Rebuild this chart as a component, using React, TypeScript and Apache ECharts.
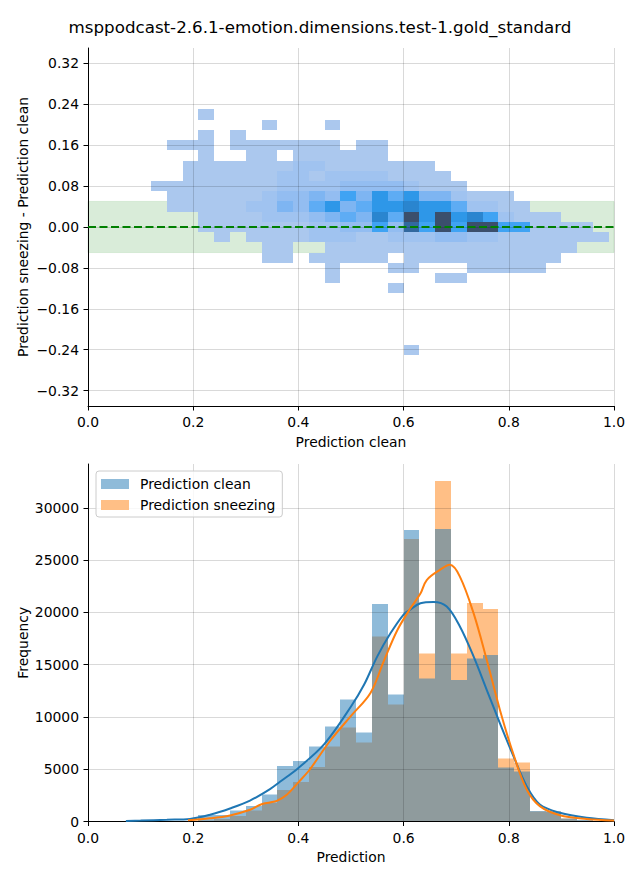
import React, { useEffect, useRef } from 'react';
import * as echarts from 'echarts';

const TITLE = 'msppodcast-2.6.1-emotion.dimensions.test-1.gold_standard';

// ---------- top panel: 2D histogram of (clean, sneezing - clean) ----------
const heatColX = [0.12, 0.15, 0.18, 0.21, 0.24, 0.27, 0.30, 0.33, 0.36, 0.39, 0.42, 0.45, 0.48, 0.51, 0.54, 0.57, 0.60, 0.63, 0.66, 0.69, 0.72, 0.75, 0.78, 0.81, 0.84, 0.87, 0.90, 0.93, 0.96];
const heatRowY = [0.22, 0.20, 0.18, 0.16, 0.14, 0.12, 0.10, 0.08, 0.06, 0.04, 0.02, 0.00, -0.02, -0.04, -0.06, -0.08, -0.10, -0.12, -0.24];
// relative count level per cell (0 = empty), one row per heatRowY, one column per heatColX
const heatCounts = [
  [0,0,0,1,0,0,0,0,0,0, 0,0,0,0,0,0,0,0,0,0, 0,0,0,0,0,0,0,0,0],
  [0,0,0,0,0,0,0,1,0,0, 0,1,0,0,0,0,0,0,0,0, 0,0,0,0,0,0,0,0,0],
  [0,0,0,1,0,1,0,0,0,0, 0,0,0,0,0,0,0,0,0,0, 0,0,0,0,0,0,0,0,0],
  [0,1,1,1,0,1,1,1,1,1, 1,1,0,1,1,0,0,0,0,0, 0,0,0,0,0,0,0,0,0],
  [0,0,0,1,0,0,1,1,0,1, 1,1,1,1,1,0,0,0,0,0, 0,0,0,0,0,0,0,0,0],
  [0,0,1,1,1,1,1,1,1,2, 2,1,1,1,1,1,1,1,0,0, 0,0,0,0,0,0,0,0,0],
  [0,0,1,1,1,1,1,1,2,2, 1,2,2,2,2,1,1,1,1,0, 0,0,0,0,0,0,0,0,0],
  [1,1,1,1,1,1,1,1,2,2, 2,2,3,3,3,3,2,1,1,1, 0,0,0,0,0,0,0,0,0],
  [0,1,1,1,1,1,1,2,3,3, 4,3,6,4,7,5,7,4,4,2, 1,1,1,0,0,0,0,0,0],
  [0,1,1,1,1,1,2,2,4,3, 5,7,4,5,7,7,8,7,7,5, 2,2,1,1,0,0,0,0,0],
  [0,0,0,1,1,1,1,2,2,2, 3,4,5,4,8,5,10,7,10,7, 8,6,2,1,1,1,0,0,0],
  [0,0,0,1,1,1,1,1,1,1, 2,2,3,3,6,3,9,6,10,6, 10,10,6,6,1,1,1,1,0],
  [0,0,0,0,1,0,1,1,1,1, 2,2,2,1,1,2,2,2,3,3, 2,2,1,1,1,1,1,1,1],
  [0,0,0,0,0,0,0,1,1,0, 0,1,1,1,1,1,1,1,1,1, 1,1,1,1,1,1,1,0,0],
  [0,0,0,0,0,0,0,1,1,0, 1,1,1,1,1,0,1,1,1,1, 1,1,1,1,1,1,0,0,0],
  [0,0,0,0,0,0,0,0,0,0, 0,1,0,0,0,1,1,0,0,0, 1,1,1,1,1,0,0,0,0],
  [0,0,0,0,0,0,0,0,0,0, 0,1,0,0,0,0,0,0,1,1, 0,0,0,0,0,0,0,0,0],
  [0,0,0,0,0,0,0,0,0,0, 0,0,0,0,0,1,0,0,0,0, 0,0,0,0,0,0,0,0,0],
  [0,0,0,0,0,0,0,0,0,0, 0,0,0,0,0,0,1,0,0,0, 0,0,0,0,0,0,0,0,0],
];
const bandLimits = [-0.05, 0.05];
const zeroLine = [[0, 0], [1, 0]];
const topYTicks = [-0.32, -0.24, -0.16, -0.08, 0.0, 0.08, 0.16, 0.24, 0.32];
const xTicks = [0, 0.2, 0.4, 0.6, 0.8, 1.0];

// ---------- bottom panel: histograms + KDE ----------
const histBinStart = [0.21, 0.24, 0.27, 0.30, 0.33, 0.36, 0.39, 0.42, 0.45, 0.48, 0.51, 0.54, 0.57, 0.60, 0.63, 0.66, 0.69, 0.72, 0.75, 0.78, 0.81, 0.84, 0.87, 0.90, 0.93, 0.96];
const cleanCounts = [600, 600, 1050, 1500, 2600, 5300, 5800, 7160, 9070, 11650, 8500, 20820, 12130, 27890, 13660, 27990, 13560, 15570, 15950, 5160, 4800, 1020, 950, 300, 120, 40];
const sneezeCounts = [100, 250, 520, 1030, 1750, 3000, 3800, 5190, 7160, 9010, 7580, 17700, 11180, 27030, 16050, 32570, 16050, 20920, 20340, 6020, 5640, 950, 950, 300, 100, 40];

const kdeCleanX = [0.072, 0.10, 0.15, 0.194, 0.232, 0.27, 0.308, 0.346, 0.365, 0.40, 0.45, 0.50, 0.525, 0.55, 0.575, 0.60, 0.612, 0.632, 0.657, 0.682, 0.707, 0.733, 0.758, 0.783, 0.809, 0.834, 0.859, 0.897, 0.948, 1.0];
const kdeCleanY = [50, 90, 170, 250, 650, 1250, 2000, 3100, 3800, 5125, 7450, 11000, 13100, 15800, 18000, 19800, 20250, 20880, 21010, 20570, 18660, 15790, 12600, 9420, 6240, 3380, 1620, 830, 350, 130];
const kdeSneezeX = [0.19, 0.232, 0.27, 0.308, 0.33, 0.346, 0.359, 0.378, 0.40, 0.422, 0.46, 0.50, 0.537, 0.562, 0.588, 0.613, 0.632, 0.644, 0.669, 0.688, 0.707, 0.733, 0.758, 0.783, 0.809, 0.834, 0.859, 0.897, 0.948, 1.0];
const kdeSneezeY = [120, 300, 580, 1120, 1650, 1820, 1980, 2560, 3750, 5000, 7700, 10100, 12300, 15300, 18300, 20400, 21800, 23100, 24070, 24550, 23430, 19930, 15470, 10700, 6400, 3060, 1470, 600, 250, 100];
const bottomYTicks = [0, 5000, 10000, 15000, 20000, 25000, 30000];

// ---------- styling constants ----------
const X_BIN = 0.03;
const Y_BIN = 0.02;
const H_BIN = 0.03;
const HEAT_COLORS = ['#abc8ee', '#a0c3f0', '#93bdf1', '#7eb5f2', '#5eacf4', '#3fa3f3', '#2e97e8', '#2a85cf', '#32699f', '#3b4f6c'];
const FONT = 'DejaVu Sans';
const FS = 13.9;
const GRID_COLOR = 'rgba(0,0,0,0.15)';

function fmtSigned(v: number, d: number) {
  const s = Math.abs(v).toFixed(d);
  return v < -1e-9 ? '\u2212' + s : s;
}

export default function App() {
  const ref = useRef<HTMLDivElement>(null);
  useEffect(() => {
    const chart = echarts.init(ref.current!, null, { renderer: 'svg' });

    const heatData: number[][] = [];
    heatRowY.forEach((y, ri) => {
      heatCounts[ri].forEach((n, ci) => {
        if (n > 0) heatData.push([heatColX[ci], y, n]);
      });
    });
    const cleanData = histBinStart.map((x, i) => [x, cleanCounts[i]]);
    const sneezeData = histBinStart.map((x, i) => [x, sneezeCounts[i]]);
    const kdeClean = kdeCleanX.map((x, i) => [x, kdeCleanY[i]]);
    const kdeSneeze = kdeSneezeX.map((x, i) => [x, kdeSneezeY[i]]);

    const axisCommonX = (gridIndex: number, name: string, gap: number) => ({
      type: 'value',
      gridIndex,
      min: 0,
      max: 1,
      interval: 0.2,
      z: 5,
      name,
      nameLocation: 'middle',
      nameGap: gap,
      nameMoveOverlap: false,
      nameTextStyle: { fontSize: FS, color: '#000', fontFamily: FONT },
      axisLine: { show: true, onZero: false, lineStyle: { color: '#000', width: 1 } },
      axisTick: { show: true, length: 4.5, lineStyle: { color: '#000', width: 1 }, customValues: xTicks },
      axisLabel: { color: '#000', fontSize: FS, margin: 9, fontFamily: FONT, customValues: xTicks, formatter: (v: number) => v.toFixed(1) },
      splitLine: { show: true, lineStyle: { color: GRID_COLOR, width: 1 } },
    });

    const histRender = (fill: string) => (params: any, api: any) => {
      const x = api.value(0);
      const n = api.value(1);
      const a = api.coord([x, n]);
      const b = api.coord([x + H_BIN, 0]);
      const x0 = Math.round(a[0]);
      const x1 = Math.round(b[0]);
      const y0 = Math.round(a[1] * 2) / 2;
      const y1 = Math.round(b[1] * 2) / 2;
      return { type: 'rect', shape: { x: x0, y: y0, width: x1 - x0, height: y1 - y0 }, style: { fill } };
    };

    const option: any = {
      animation: false,
      textStyle: { fontFamily: FONT },
      title: {
        text: TITLE,
        left: 'center',
        top: 18,
        padding: 0,
        textStyle: { fontSize: 16.7, fontWeight: 'normal', color: '#000', fontFamily: FONT },
      },
      legend: {
        data: [
          { name: 'Prediction clean', itemStyle: { color: '#8fbbd9' } },
          { name: 'Prediction sneezing', itemStyle: { color: '#ffbf86' } },
        ],
        orient: 'vertical',
        left: 96,
        top: 471,
        icon: 'rect',
        itemWidth: 28,
        itemHeight: 10,
        itemGap: 7,
        padding: [6, 7, 5, 5],
        selectedMode: false,
        backgroundColor: 'rgba(255,255,255,0.8)',
        borderColor: '#cccccc',
        borderWidth: 1,
        borderRadius: 3,
        z: 30,
        textStyle: { fontSize: FS, color: '#000', fontFamily: FONT, padding: [0, 0, 0, 6] },
      },
      grid: [
        { left: 88, top: 48, width: 526, height: 358 },
        { left: 88, top: 464, width: 526, height: 357.5 },
      ],
      xAxis: [
        axisCommonX(0, 'Prediction clean', 28.5),
        axisCommonX(1, 'Prediction', 28),
      ],
      yAxis: [
        {
          type: 'value',
          gridIndex: 0,
          min: -0.35,
          max: 0.35,
          z: 5,
          name: 'Prediction sneezing - Prediction clean',
          nameLocation: 'middle',
          nameGap: 58,
          nameMoveOverlap: false,
          nameTextStyle: { fontSize: FS, color: '#000', fontFamily: FONT },
          axisLine: { show: true, onZero: false, lineStyle: { color: '#000', width: 1 } },
          axisTick: { show: true, length: 4.5, lineStyle: { color: '#000', width: 1 }, customValues: topYTicks },
          axisLabel: { color: '#000', fontSize: FS, margin: 9, fontFamily: FONT, customValues: topYTicks, formatter: (v: number) => fmtSigned(v, 2) },
          splitLine: { show: true, lineStyle: { color: GRID_COLOR, width: 1 } },
        },
        {
          type: 'value',
          gridIndex: 1,
          min: 0,
          max: 34200,
          z: 5,
          name: 'Frequency',
          nameLocation: 'middle',
          nameGap: 58,
          nameMoveOverlap: false,
          nameTextStyle: { fontSize: FS, color: '#000', fontFamily: FONT },
          axisLine: { show: true, onZero: false, lineStyle: { color: '#000', width: 1 } },
          axisTick: { show: true, length: 4.5, lineStyle: { color: '#000', width: 1 }, customValues: bottomYTicks },
          axisLabel: { color: '#000', fontSize: FS, margin: 9, fontFamily: FONT, customValues: bottomYTicks, formatter: (v: number) => String(Math.round(v)) },
          splitLine: { show: true, lineStyle: { color: GRID_COLOR, width: 1 } },
        },
      ],
      series: [
        {
          name: 'band',
          type: 'custom',
          xAxisIndex: 0,
          yAxisIndex: 0,
          z: 1,
          silent: true,
          data: [bandLimits],
          renderItem: (params: any, api: any) => {
            const cs = params.coordSys;
            const top = api.coord([0, api.value(1)])[1];
            const bot = api.coord([0, api.value(0)])[1];
            return {
              type: 'rect',
              shape: { x: cs.x, y: top, width: cs.width, height: bot - top },
              style: { fill: 'rgba(0,128,0,0.15)', stroke: 'rgba(0,128,0,0.1)', lineWidth: 1 },
            };
          },
        },
        {
          name: 'hist2d',
          type: 'custom',
          xAxisIndex: 0,
          yAxisIndex: 0,
          z: 2,
          silent: true,
          encode: { x: 0, y: 1 },
          data: heatData,
          renderItem: (params: any, api: any) => {
            const x = api.value(0);
            const y = api.value(1);
            const n = api.value(2);
            const a = api.coord([x, y + Y_BIN / 2]);
            const b = api.coord([x + X_BIN, y - Y_BIN / 2]);
            const x0 = Math.round(a[0]);
            const x1 = Math.round(b[0]);
            const y0 = Math.round(a[1]);
            const y1 = Math.round(b[1]);
            return {
              type: 'rect',
              shape: { x: x0, y: y0, width: x1 - x0, height: y1 - y0 },
              style: { fill: HEAT_COLORS[Math.min(HEAT_COLORS.length, n) - 1] },
            };
          },
        },
        {
          name: 'zero',
          type: 'line',
          xAxisIndex: 0,
          yAxisIndex: 0,
          z: 10,
          silent: true,
          symbol: 'none',
          data: zeroLine,
          lineStyle: { color: '#008000', width: 2.2, type: [8, 3.5] },
        },
        {
          name: 'Prediction sneezing',
          type: 'custom',
          xAxisIndex: 1,
          yAxisIndex: 1,
          z: 2,
          silent: true,
          encode: { x: 0, y: 1 },
          itemStyle: { color: '#ffbf86' },
          data: sneezeData,
          renderItem: histRender('rgba(255,127,14,0.5)'),
        },
        {
          name: 'Prediction clean',
          type: 'custom',
          xAxisIndex: 1,
          yAxisIndex: 1,
          z: 2,
          silent: true,
          encode: { x: 0, y: 1 },
          itemStyle: { color: '#8fbbd9' },
          data: cleanData,
          renderItem: histRender('rgba(31,119,180,0.5)'),
        },
        {
          name: 'kde clean',
          type: 'line',
          xAxisIndex: 1,
          yAxisIndex: 1,
          z: 10,
          silent: true,
          symbol: 'none',
          smooth: 0.35,
          data: kdeClean,
          lineStyle: { color: '#1f77b4', width: 2 },
        },
        {
          name: 'kde sneezing',
          type: 'line',
          xAxisIndex: 1,
          yAxisIndex: 1,
          z: 10,
          silent: true,
          symbol: 'none',
          smooth: 0.35,
          data: kdeSneeze,
          lineStyle: { color: '#ff7f0e', width: 2 },
        },
      ],
    };

    chart.setOption(option);
    return () => chart.dispose();
  }, []);

  return <div ref={ref} style={{ position: 'fixed', left: 0, top: 0, width: 640, height: 880, background: '#fff' }} />;
}
